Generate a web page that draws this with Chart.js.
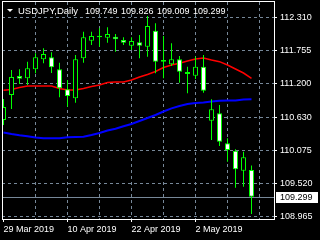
<!DOCTYPE html>
<html>
<head>
<meta charset="utf-8">
<script src="https://cdn.jsdelivr.net/npm/chart.js@4.4.1/dist/chart.umd.min.js"></script>
<style>
  html, body { margin: 0; padding: 0; background: #000; }
  canvas { display: block; }
</style>
</head>
<body>
<canvas id="chart" width="320" height="240"></canvas>
<script>
const symbol = "USDJPY,Daily";
const dates = [
  "29 Mar 2019", "1 Apr 2019", "2 Apr 2019", "3 Apr 2019", "4 Apr 2019", "5 Apr 2019",
  "8 Apr 2019", "9 Apr 2019", "10 Apr 2019", "11 Apr 2019", "12 Apr 2019", "15 Apr 2019",
  "16 Apr 2019", "17 Apr 2019", "18 Apr 2019", "19 Apr 2019", "22 Apr 2019", "23 Apr 2019",
  "24 Apr 2019", "25 Apr 2019", "26 Apr 2019", "29 Apr 2019", "30 Apr 2019", "1 May 2019",
  "2 May 2019", "3 May 2019", "6 May 2019", "7 May 2019", "8 May 2019", "9 May 2019",
  "10 May 2019", "13 May 2019",
];
const open = [
  110.591, 111.013, 111.333, 111.294, 111.446, 111.614, 111.648, 111.446, 111.109, 110.957,
  111.631, 111.928, 111.985, 111.978, 111.995, 111.939, 111.843, 111.901, 111.826, 112.096,
  111.602, 111.53, 111.614, 111.4, 111.338, 111.489, 110.58, 110.704, 110.199, 110.074,
  109.737, 109.749,
];
const high = [
  110.945, 111.434, 111.446, 111.574, 111.715, 111.799, 111.732, 111.557, 111.265, 111.687,
  112.079, 112.079, 112.136, 112.153, 112.04, 111.985, 111.985, 112.024, 112.344, 112.221,
  112.007, 111.884, 111.67, 111.489, 111.66, 111.687, 110.94, 110.844, 110.283, 110.098,
  110.057, 109.826,
];
const low = [
  110.507, 110.777, 111.198, 111.181, 111.378, 111.547, 111.383, 110.974, 110.815, 110.883,
  111.557, 111.855, 111.826, 111.894, 111.742, 111.855, 111.771, 111.631, 111.658, 111.378,
  111.294, 111.501, 111.22, 111.041, 111.282, 111.051, 110.254, 110.153, 109.889, 109.451,
  109.467, 109.009,
];
const close = [
  110.81, 111.316, 111.287, 111.462, 111.648, 111.703, 111.479, 111.125, 110.996, 111.614,
  111.985, 112.007, 112.012, 112.04, 111.951, 111.894, 111.922, 111.843, 112.175, 111.574,
  111.574, 111.614, 111.405, 111.366, 111.489, 111.085, 110.772, 110.226, 110.086, 109.761,
  109.963, 109.299,
];
// moving averages (red = fast, blue = slow)
const maRed = [
  111.092, 111.105, 111.139, 111.164, 111.164, 111.164, 111.164, 111.122, 111.097, 111.097,
  111.122, 111.156, 111.181, 111.223, 111.232, 111.232, 111.265, 111.316, 111.358, 111.409,
  111.476, 111.518, 111.547, 111.585, 111.619, 111.636, 111.602, 111.574, 111.518, 111.451,
  111.383, 111.294,
];
const maBlue = [
  110.381, 110.355, 110.334, 110.317, 110.296, 110.283, 110.283, 110.283, 110.3, 110.305,
  110.31, 110.339, 110.372, 110.414, 110.445, 110.485, 110.524, 110.574, 110.625, 110.676,
  110.735, 110.788, 110.827, 110.861, 110.878, 110.886, 110.903, 110.917, 110.92, 110.92,
  110.937, 110.94,
];
const yTicks = [112.31, 111.755, 111.2, 110.63, 110.075, 109.52, 108.965];

const GREEN = "#00ff00";
const GRID = "#778899";
const FONT = "'Liberation Sans', Arial, sans-serif";
const last = close.length - 1;

const wicks = dates.map((d, i) => ({ x: i, y: [low[i], high[i]] }));
const bodies = dates.map((d, i) => ({ x: i, y: [open[i], close[i]] }));

// frame, header text and the bid line / label, like the terminal draws them
const terminalPlugin = {
  id: "terminal",
  beforeDatasetsDraw(chart) {
    const { ctx, chartArea, scales } = chart;
    const y = Math.round(scales.y.getPixelForValue(close[last])) + 0.5;
    ctx.save();
    ctx.strokeStyle = GRID;
    ctx.lineWidth = 1;
    ctx.beginPath();
    ctx.moveTo(chartArea.left, y);
    ctx.lineTo(chartArea.right, y);
    ctx.stroke();
    ctx.restore();
  },
  afterDraw(chart) {
    const { ctx, chartArea, scales } = chart;
    ctx.save();
    ctx.strokeStyle = "#fff";
    ctx.lineWidth = 1;
    ctx.strokeRect(chartArea.left + 0.5, chartArea.top - 0.5,
      chartArea.right - chartArea.left, chartArea.bottom - chartArea.top + 1);

    // header
    ctx.fillStyle = "#fff";
    ctx.beginPath();
    ctx.moveTo(7, 9);
    ctx.lineTo(13, 9);
    ctx.lineTo(10, 12);
    ctx.closePath();
    ctx.fill();
    ctx.font = "9.5px " + FONT;
    ctx.textBaseline = "alphabetic";
    ctx.fillText(symbol, 18, 14);
    ctx.font = "9px " + FONT;
    const ohlc = [open[last], high[last], low[last], close[last]];
    const xs = [85, 121, 157, 193];
    ohlc.forEach((v, k) => ctx.fillText(v.toFixed(3), xs[k], 14));

    // bid label
    const y = Math.round(scales.y.getPixelForValue(close[last]));
    ctx.fillStyle = "#fff";
    ctx.fillRect(chartArea.right + 2, y - 5, 42, 11);
    ctx.fillStyle = "#000";
    ctx.font = "9px " + FONT;
    ctx.textBaseline = "middle";
    ctx.fillText(close[last].toFixed(3), chartArea.right + 6, y + 1);
    ctx.restore();
  },
};

const ctx = document.getElementById("chart");
new Chart(ctx, {
  type: "line",
  data: {
    datasets: [
      {
        type: "bar",
        label: "bodies",
        data: bodies,
        order: 0,
        grouped: false,
        barThickness: 5,
        borderWidth: 1,
        borderSkipped: false,
        inflateAmount: 0,
        borderColor: GREEN,
        backgroundColor: dates.map((d, i) => (close[i] >= open[i] ? "#000" : "#fff")),
      },
      {
        type: "bar",
        label: "wicks",
        data: wicks,
        order: 1,
        grouped: false,
        barThickness: 1,
        borderWidth: 0,
        inflateAmount: 0,
        backgroundColor: GREEN,
      },
      {
        label: "ma fast",
        data: maRed.map((v, i) => ({ x: i, y: v })),
        order: 2,
        borderColor: "#ff0000",
        borderWidth: 1.5,
        pointRadius: 0,
        tension: 0,
      },
      {
        label: "ma slow",
        data: maBlue.map((v, i) => ({ x: i, y: v })),
        order: 3,
        borderColor: "#0000ff",
        borderWidth: 2,
        pointRadius: 0,
        tension: 0,
      },
    ],
  },
  options: {
    responsive: false,
    animation: false,
    events: [],
    layout: { padding: { left: 2, top: 2, right: 0, bottom: 0 } },
    plugins: {
      legend: { display: false },
      tooltip: { enabled: false },
    },
    scales: {
      x: {
        type: "linear",
        min: -0.1875,
        max: 33.8125,
        offset: false,
        afterBuildTicks: (scale) => {
          const t = [];
          for (let v = 0; v <= 32; v += 4) t.push({ value: v });
          scale.ticks = t;
        },
        afterFit: (scale) => {
          scale.height = 21;
          scale.paddingLeft = 0;
          scale.paddingRight = 0;
        },
        ticks: {
          autoSkip: false,
          maxRotation: 0,
          minRotation: 0,
          align: "start",
          padding: 2,
          color: "#fff",
          font: { family: FONT, size: 9 },
          callback: (v) => (v % 8 === 0 && dates[v] ? dates[v] : ""),
        },
        grid: {
          offset: false,
          color: (c) => (c.tick && c.tick.value === 0 ? "rgba(0,0,0,0)" : GRID),
          tickColor: (c) => (c.tick && c.tick.value % 8 === 0 && dates[c.tick.value] ? "#fff" : "rgba(0,0,0,0)"),
          tickLength: 3,
          tickBorderDash: [],
        },
        border: { display: false, dash: [3, 3] },
      },
      y: {
        position: "right",
        min: 108.9231,
        max: 112.5796,
        afterBuildTicks: (scale) => {
          scale.ticks = yTicks.map((v) => ({ value: v }));
        },
        afterFit: (scale) => {
          scale.width = 46;
          scale.paddingTop = 0;
          scale.paddingBottom = 0;
        },
        ticks: {
          padding: 3,
          color: "#fff",
          font: { family: FONT, size: 9 },
          callback: (v) => v.toFixed(3),
        },
        grid: {
          color: GRID,
          tickColor: "#fff",
          tickLength: 3,
          tickBorderDash: [],
        },
        border: { display: false, dash: [3, 3] },
      },
    },
  },
  plugins: [terminalPlugin],
});
</script>
</body>
</html>
